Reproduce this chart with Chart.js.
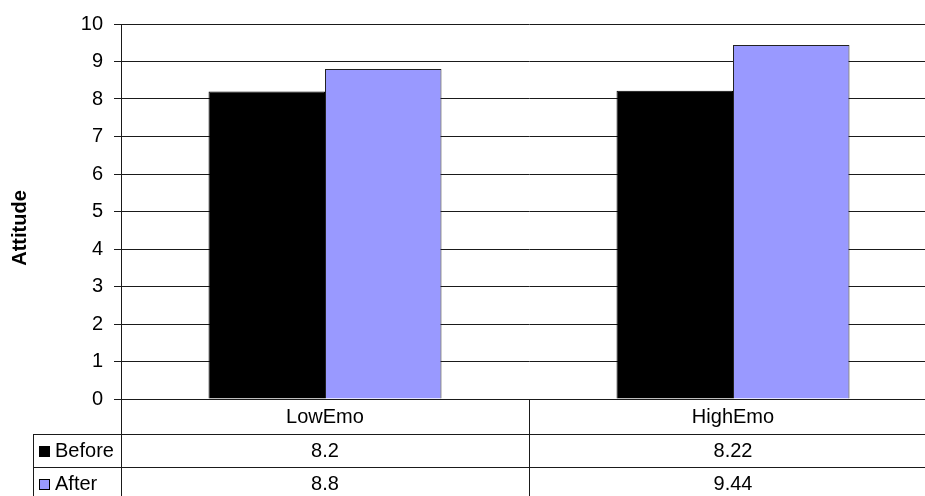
<!DOCTYPE html>
<html>
<head>
<meta charset="utf-8">
<script src="https://cdn.jsdelivr.net/npm/chart.js@4"></script>
<style>
  html, body { margin: 0; padding: 0; background: #fff; overflow: hidden; }
  #wrap { width: 925px; height: 496px; overflow: hidden; position: relative; }
  canvas { display: block; }
</style>
</head>
<body>
<div id="wrap"><canvas id="chart" width="940" height="500"></canvas></div>
<script>
/* ── Data ── */
const categories = ["LowEmo", "HighEmo"];
const seriesNames = ["Before", "After"];
const beforeValues = [8.2, 8.22];
const afterValues = [8.8, 9.44];
const seriesColors = ["#000000", "#9999FF"];
const yTicks = [0, 1, 2, 3, 4, 5, 6, 7, 8, 9, 10];

const FONT = "'Liberation Sans', Arial, sans-serif";
const LINE = "#1a1a1a";

/* ── Data table under the plot (Excel style) ── */
const dataTable = {
  id: "dataTable",
  afterDraw(chart) {
    const { ctx, chartArea, scales } = chart;
    const x = scales.x;
    const top = chartArea.bottom;
    const rowH = [35, 33, 33];
    const rows = [top, top + rowH[0], top + rowH[0] + rowH[1], top + rowH[0] + rowH[1] + rowH[2]];
    const tableLeft = 33;
    const half = (x.getPixelForValue(1) - x.getPixelForValue(0)) / 2;
    const right = x.getPixelForValue(categories.length - 1) + half;

    ctx.save();
    ctx.strokeStyle = LINE;
    ctx.lineWidth = 1;
    const hLine = (y, x0, x1) => { ctx.beginPath(); ctx.moveTo(x0, Math.round(y) + 0.5); ctx.lineTo(x1, Math.round(y) + 0.5); ctx.stroke(); };
    const vLine = (xx, y0, y1) => { ctx.beginPath(); ctx.moveTo(Math.round(xx) + 0.5, y0); ctx.lineTo(Math.round(xx) + 0.5, y1); ctx.stroke(); };

    // horizontal rules
    hLine(rows[0], chartArea.left, right);
    hLine(rows[1], tableLeft, right);
    hLine(rows[2], tableLeft, right);
    hLine(rows[3], tableLeft, right);
    // vertical rules
    vLine(chartArea.left, rows[0], rows[3]);
    vLine(tableLeft, rows[1], rows[3]);
    for (let i = 0; i <= categories.length; i++) {
      vLine(x.getPixelForValue(i) - half, rows[0], rows[3]);
    }

    ctx.fillStyle = "#000";
    ctx.font = "20px " + FONT;
    ctx.textAlign = "center";
    ctx.textBaseline = "middle";
    categories.forEach((c, i) => {
      const cx = x.getPixelForValue(i);
      ctx.fillText(c, cx, (rows[0] + rows[1]) / 2 + 1);
      ctx.fillText(String(beforeValues[i]), cx, (rows[1] + rows[2]) / 2 + 1);
      ctx.fillText(String(afterValues[i]), cx, (rows[2] + rows[3]) / 2 + 1);
    });

    // legend keys + series names
    ctx.textAlign = "left";
    seriesNames.forEach((name, i) => {
      const yMid = (rows[i + 1] + rows[i + 2]) / 2;
      ctx.fillStyle = seriesColors[i];
      ctx.fillRect(39, Math.round(yMid) - 5, 11, 11);
      ctx.strokeStyle = "#000";
      ctx.strokeRect(39.5, Math.round(yMid) - 4.5, 10, 10);
      ctx.fillStyle = "#000";
      ctx.fillText(name, 55, yMid + 1);
    });

    // y axis title
    ctx.save();
    ctx.translate(20, 228);
    ctx.rotate(-Math.PI / 2);
    ctx.textAlign = "center";
    ctx.font = "bold 20px " + FONT;
    ctx.fillText("Attitude", 0, 0);
    ctx.restore();

    ctx.restore();
  }
};

new Chart(document.getElementById("chart"), {
  type: "bar",
  data: {
    labels: categories,
    datasets: [
      { label: seriesNames[0], data: beforeValues, backgroundColor: seriesColors[0], borderColor: "#000", borderWidth: 1 },
      { label: seriesNames[1], data: afterValues, backgroundColor: seriesColors[1], borderColor: "#222", borderWidth: 1 }
    ]
  },
  options: {
    responsive: false,
    animation: false,
    layout: { padding: { left: 0, top: 24, right: 3, bottom: 101 } },
    datasets: { bar: { categoryPercentage: 0.571, barPercentage: 1.0, borderSkipped: "bottom" } },
    plugins: { legend: { display: false }, tooltip: { enabled: false } },
    scales: {
      x: { display: false },
      y: {
        min: 0, max: 10,
        afterFit(scale) { scale.width = 121; },
        afterBuildTicks(scale) { scale.ticks = yTicks.map(v => ({ value: v })); },
        border: { display: true, color: LINE, width: 1 },
        grid: { color: LINE, lineWidth: 1, tickLength: 7, drawTicks: true },
        ticks: { color: "#000", padding: 11, font: { family: FONT, size: 20 } }
      }
    }
  },
  plugins: [dataTable]
});
</script>
</body>
</html>
